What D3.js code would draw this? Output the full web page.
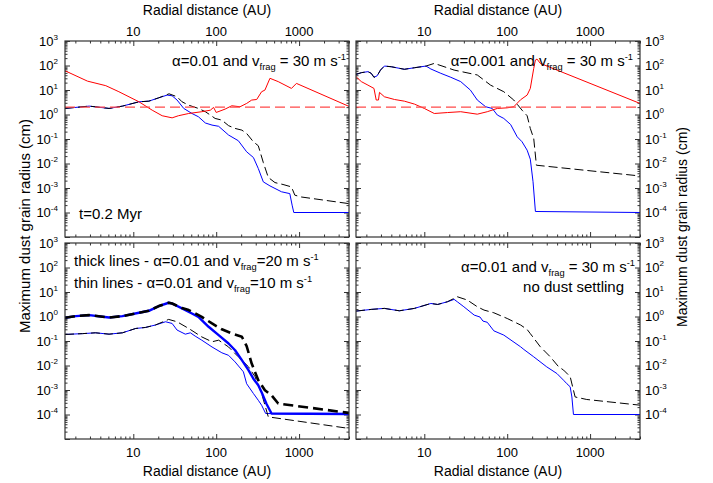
<!DOCTYPE html>
<html>
<head>
<meta charset="utf-8">
<script src="https://cdn.jsdelivr.net/npm/d3@7"></script>
<style>
  body { margin: 0; background: #fff; }
  svg { display: block; }
  svg text { font-family: "Liberation Sans", Arial, sans-serif; fill: #000; }
</style>
</head>
<body>
<script>
// axis ranges and tick labels
var xDomain = [1.5, 4000];
var yDomain = [1e-5, 1e3];
var xTickLabels = [10, 100, 1000];
var yTickLabels = [1e3, 1e2, 1e1, 1e0, 1e-1, 1e-2, 1e-3, 1e-4];

// red dashed reference level (cm)
var fragLevel = [[1.5, 2], [4000, 2]];

// top left: alpha=0.01, vfrag=30 m/s  [AU, cm]
var tlRed = [[1.5,61],[2.8,23],[4.66,15],[6.7,8.5],[11.7,3.3],[16.9,1.5],[22.3,0.89],[29.4,0.73],[35,0.89],
  [46.6,1.1],[67,1.3],[85,1.5],[93,1.95],[100,1.21],[128,1.66],[154,2.27],[194,2.07],[233,2.83],[268,3.88],
  [308,4.1],[353,8.5],[387,9.9],[445,30],[560,22],[809,11.6],[929,18.6],[4000,2.14]];
var tlBlue = [[1.5,1.77],[2.94,2.2],[5.1,1.77],[7.4,2.2],[11.7,3.3],[15.4,3.5],[20.3,4.8],[25.6,6.2],[29.4,5.8],
  [33.7,3.9],[40.6,1.77],[51,1.1],[61,0.81],[74,0.45],[89,0.37],[107,0.33],[141,0.145],[185,0.085],[233,0.03],
  [281,0.0176],[322,0.00625],[370,0.00178],[445,0.00122],[614,0.0007],[773,0.00059],[824,0.0002],[863,1e-4],[4000,1e-4]];
var tlBlack = [[1.5,1.77],[2.94,2.2],[5.1,1.77],[7.4,2.2],[11.7,3.3],[15.4,3.5],[20.3,4.8],[27,7.0],[33.7,5.3],
  [38.7,3.3],[46.6,2.4],[61,1.77],[74,1.3],[85,0.95],[97,0.69],[117,0.59],[141,0.35],[169,0.27],[204,0.23],
  [233,0.168],[281,0.077],[322,0.053],[370,0.011],[425,0.0027],[512,0.00166],[640,0.00139],[809,0.00111],
  [888,0.00051],[1062,0.00043],[4000,0.00023]];

// top right: alpha=0.001, vfrag=30 m/s
var trRed = [[1.5,35],[1.74,22],[2.09,15.8],[2.47,11.6],[2.63,3.9],[2.8,3.9],[2.88,8],[3.3,5.3],[4.37,4.1],
  [5.75,3.5],[7.6,2.66],[10,1.77],[13.2,1.1],[19,1.2],[27.5,1.3],[43.6,1.03],[57.5,1.3],[76,1.77],[100,1.87],
  [120,2.07],[145,4],[174,6.2],[190,11.6],[209,76],[219,167],[229,183],[251,122],[4000,2.83]];
var trBlue = [[1.5,43],[1.74,51],[2.09,56],[2.29,48],[2.47,33],[2.7,38],[2.96,65],[3.3,95],[4.0,89],[5.75,70],
  [7.6,81],[10.5,95],[12,72],[15.8,48],[20.9,33],[27.5,22],[36,9.9],[43.6,3.9],[55,2.07],[66,1.77],[76,0.95],
  [91,0.69],[110,0.39],[132,0.123],[151,0.077],[174,0.035],[190,0.015],[205,0.0018],[219,1.1e-4],[4000,1e-4]];
var trBlack = [[1.5,43],[1.74,51],[2.09,56],[2.29,48],[2.47,33],[2.7,38],[2.96,65],[3.3,95],[4.0,89],[5.75,70],
  [7.6,81],[10.5,95],[13.2,122],[22.9,65],[43.6,41],[63,15.8],[91,8.5],[120,3.9],[151,1.5],[174,0.89],
  [190,0.27],[209,0.105],[225,0.0085],[4000,0.0031]];

// bottom left: thick = vfrag 20 m/s, thin = vfrag 10 m/s
var blThickBlue = [[1.5,0.89],[2.03,1.04],[2.94,1.14],[5.1,0.91],[7.4,1.04],[11.7,1.42],[15.4,1.71],[20.3,2.66],
  [26.7,3.64],[29.4,3.4],[38.7,2.14],[51,1.33],[61,0.97],[81,0.38],[107,0.174],[141,0.079],[169,0.042],
  [204,0.0165],[245,0.0065],[281,0.0029],[322,0.00157],[353,0.00081],[405,0.00027],[465,1.1e-4],[4000,1.05e-4]];
var blThickBlack = [[1.5,0.89],[2.03,1.04],[2.94,1.14],[5.1,0.91],[7.4,1.04],[11.7,1.42],[15.4,1.71],[20.3,2.66],
  [26.7,3.64],[29.4,3.4],[38.7,2.2],[46.6,1.83],[67,0.97],[89,0.52],[117,0.30],[162,0.19],[204,0.149],
  [233,0.062],[268,0.012],[322,0.0025],[387,0.00098],[465,0.00061],[560,0.00028],[4000,1.16e-4]];
var blThinBlue = [[1.5,0.185],[2.44,0.2],[3.5,0.216],[5.1,0.19],[7.4,0.216],[10.7,0.325],[14,0.357],[18.5,0.45],
  [24.5,0.61],[29.4,0.52],[33.7,0.28],[42.4,0.19],[48.8,0.216],[55.8,0.158],[67,0.108],[89,0.057],[117,0.033],
  [141,0.026],[169,0.014],[213,0.0055],[233,0.0018],[281,0.00072],[322,0.00038],[353,0.00024],[395,1.1e-4],[4000,1e-4]];
var blThinBlack = [[1.5,0.185],[2.44,0.2],[3.5,0.216],[5.1,0.19],[7.4,0.216],[10.7,0.325],[14,0.357],[18.5,0.45],
  [26.7,0.76],[33.7,0.61],[46.6,0.325],[67,0.147],[89,0.093],[107,0.108],[141,0.057],[185,0.0226],[245,0.0089],
  [294,0.0035],[353,0.00072],[425,8e-5],[4000,2.7e-5]];

// bottom right: alpha=0.01, vfrag=30 m/s, no dust settling
var brBlue = [[1.5,1.66],[2.29,1.95],[3.3,2.14],[5,1.71],[7.6,2.14],[12,3.4],[14.5,3.1],[19,4.0],[22.9,5.0],[25,4.0],
  [30,2.5],[40,1.14],[47,0.95],[51,0.65],[57.5,0.58],[69,0.26],[91,0.174],[145,0.058],[159,0.045],[209,0.0226],
  [300,0.0088],[398,0.0047],[479,0.0025],[525,0.0018],[575,0.00135],[603,0.00052],[630,1e-4],[4000,1e-4]];
var brBlack = [[1.5,1.66],[2.29,1.95],[3.3,2.14],[5,1.71],[7.6,2.14],[12,3.4],[14.5,3.1],[19,4.0],[25,6.4],[33,4.7],
  [43.6,2.5],[52.5,1.83],[69,1.42],[100,0.83],[145,0.45],[174,0.295],[190,0.2],[251,0.058],[331,0.0226],
  [417,0.0089],[479,0.0065],[575,0.0035],[630,0.00098],[660,0.00052],[912,0.00041],[4000,0.00024]];

var W = 713, H = 483;
var pw = 284, ph = 196;
var frameColor = '#333';

var svg = d3.select('body').append('svg')
  .attr('width', W)
  .attr('height', H);

var x = d3.scaleLog().domain(xDomain).range([0, pw]);
var y = d3.scaleLog().domain(yDomain).range([ph, 0]);

var line = d3.line()
  .x(function (d) { return x(d[0]); })
  .y(function (d) { return y(d[1]); });

function isPow10(v) {
  var l = Math.log10(v);
  return Math.abs(l - Math.round(l)) < 1e-9;
}
var xMinor = x.ticks().filter(function (v) { return !isPow10(v); });
var xMajor = x.ticks().filter(isPow10);
var yMinor = y.ticks().filter(function (v) { return !isPow10(v); });
var yMajor = y.ticks().filter(isPow10);

var red = '#ff0000', blue = '#0000ff', black = '#000', redDash = '#ff4a4a';

var panels = [
  { left: 65, top: 41, xLab: 'top', yLab: 'left',
    lines: [
      { data: tlBlue, color: blue, w: 1 },
      { data: tlBlack, color: black, w: 1, dash: '9,4' },
      { data: tlRed, color: red, w: 1 },
      { data: fragLevel, color: redDash, w: 1.2, dash: '10,5' }
    ] },
  { left: 356, top: 41, xLab: 'top', yLab: 'right',
    lines: [
      { data: trBlue, color: blue, w: 1 },
      { data: trBlack, color: black, w: 1, dash: '9,4' },
      { data: trRed, color: red, w: 1 },
      { data: fragLevel, color: redDash, w: 1.2, dash: '10,5' }
    ] },
  { left: 65, top: 243, xLab: 'bottom', yLab: 'left',
    lines: [
      { data: blThinBlue, color: blue, w: 1 },
      { data: blThinBlack, color: black, w: 1, dash: '9,4' },
      { data: blThickBlue, color: blue, w: 2.4 },
      { data: blThickBlack, color: black, w: 2.6, dash: '10,5' }
    ] },
  { left: 356, top: 243, xLab: 'bottom', yLab: 'right',
    lines: [
      { data: brBlue, color: blue, w: 1 },
      { data: brBlack, color: black, w: 1, dash: '9,4' }
    ] }
];

// text with sub/superscripts: parts = [[text, 'sub'|'sup'|undefined], ...]
function richText(g, px, py, parts, anchor, size) {
  var t = g.append('text')
    .attr('x', px).attr('y', py)
    .attr('text-anchor', anchor)
    .style('font-size', size + 'px');
  var shift = 0;
  parts.forEach(function (p) {
    var target = p[1] === 'sub' ? 3.5 : (p[1] === 'sup' ? -6 : 0);
    t.append('tspan')
      .attr('dy', target - shift)
      .style('font-size', (p[1] ? size * 0.62 : size) + 'px')
      .text(p[0]);
    shift = target;
  });
  return t;
}

panels.forEach(function (p, i) {
  var g = svg.append('g').attr('transform', 'translate(' + p.left + ',' + p.top + ')');

  g.append('clipPath').attr('id', 'clip' + i)
    .append('rect').attr('width', pw).attr('height', ph);

  // ticks, all pointing inwards
  var axes = [
    [d3.axisTop(x), 0, 0, xMajor, xMinor],
    [d3.axisBottom(x), 0, ph, xMajor, xMinor],
    [d3.axisLeft(y), 0, 0, yMajor, yMinor],
    [d3.axisRight(y), pw, 0, yMajor, yMinor]
  ];
  axes.forEach(function (a) {
    [[a[3], 5], [a[4], 2.5]].forEach(function (set) {
      g.append('g')
        .attr('transform', 'translate(' + a[1] + ',' + a[2] + ')')
        .attr('color', frameColor)
        .call(a[0].tickValues(set[0]).tickSize(-set[1]).tickFormat(''))
        .call(function (s) { s.select('.domain').remove(); });
    });
  });

  // x tick labels
  g.selectAll('.xl').data(xTickLabels).enter().append('text')
    .attr('x', function (d) { return x(d); })
    .attr('y', p.xLab === 'top' ? -5 : ph + 18)
    .attr('text-anchor', 'middle')
    .style('font-size', '13px')
    .text(function (d) { return d; });

  // y tick labels 10^n
  yTickLabels.forEach(function (v) {
    var e = Math.round(Math.log10(v));
    var left = p.yLab === 'left';
    richText(g, left ? -7 : pw + 5, y(v) + 4.5, [['10'], [String(e), 'sup']], left ? 'end' : 'start', 13);
  });

  var plot = g.append('g').attr('clip-path', 'url(#clip' + i + ')');
  p.g = g;
  p.plot = plot;
});

// panel annotations
var tl = panels[0].g, tr = panels[1].g, bl = panels[2].g, br = panels[3].g;
richText(tl, 281, 25, [['\u03b1=0.01 and v'], ['frag', 'sub'], [' = 30 m s'], ['-1', 'sup']], 'end', 15);
richText(tl, 14, 178, [['t=0.2 Myr']], 'start', 15);
richText(tr, 277, 25, [['\u03b1=0.001 and v'], ['frag', 'sub'], [' = 30 m s'], ['-1', 'sup']], 'end', 15);
richText(bl, 9, 23, [['thick lines - \u03b1=0.01 and v'], ['frag', 'sub'], ['=20 m s'], ['-1', 'sup']], 'start', 15);
richText(bl, 9, 45, [['thin lines - \u03b1=0.01 and v'], ['frag', 'sub'], ['=10 m s'], ['-1', 'sup']], 'start', 15);
richText(br, 279, 29, [['\u03b1=0.01 and v'], ['frag', 'sub'], [' = 30 m s'], ['-1', 'sup']], 'end', 15);
richText(br, 268, 49, [['no dust settling']], 'end', 15);

// curves
panels.forEach(function (p) {
  p.lines.forEach(function (l) {
    p.plot.append('path')
      .datum(l.data)
      .attr('d', line)
      .attr('fill', 'none')
      .attr('stroke', l.color)
      .attr('stroke-width', l.w)
      .attr('stroke-dasharray', l.dash || null)
      .attr('stroke-linejoin', 'round');
  });
  p.g.append('rect')
    .attr('width', pw).attr('height', ph)
    .attr('fill', 'none')
    .attr('stroke', frameColor)
    .attr('stroke-width', 1.2);
});

// axis titles
[65 + pw / 2, 356 + pw / 2].forEach(function (cx) {
  svg.append('text').attr('x', cx).attr('y', 15).attr('text-anchor', 'middle')
    .style('font-size', '14px').text('Radial distance (AU)');
  svg.append('text').attr('x', cx).attr('y', 476).attr('text-anchor', 'middle')
    .style('font-size', '14px').text('Radial distance (AU)');
});
svg.append('text')
  .attr('transform', 'translate(30,226) rotate(-90)')
  .attr('text-anchor', 'middle')
  .style('font-size', '15px')
  .text('Maximum dust grain radius (cm)');
svg.append('text')
  .attr('transform', 'translate(687,227) rotate(-90)')
  .attr('text-anchor', 'middle')
  .style('font-size', '14px')
  .text('Maximum dust grain radius (cm)');
</script>
</body>
</html>
